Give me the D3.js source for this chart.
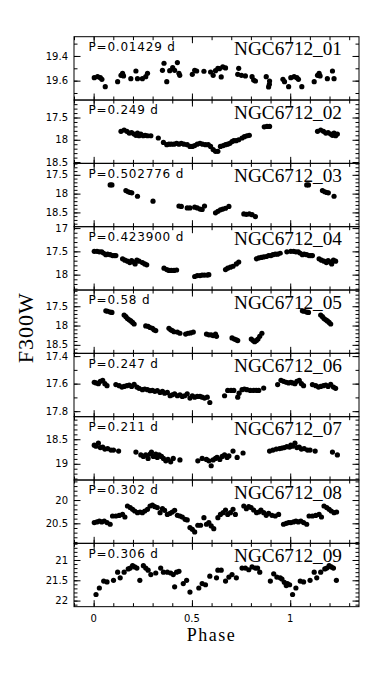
<!DOCTYPE html>
<html><head><meta charset="utf-8">
<script src="https://cdn.jsdelivr.net/npm/d3@7"></script>
<style>body{margin:0;background:#fff}</style></head>
<body>
<script>
// ---------- DATA ----------
const starNames = ["NGC6712_01","NGC6712_02","NGC6712_03","NGC6712_04","NGC6712_05","NGC6712_06","NGC6712_07","NGC6712_08","NGC6712_09"];
const periodLabels = ["P=0.01429 d","P=0.249 d","P=0.502776 d","P=0.423900 d","P=0.58 d","P=0.247 d","P=0.211 d","P=0.302 d","P=0.306 d"];
const xTickLabels = [0, 0.5, 1];
const yLabelTicks = [[19.4,19.6],[17.5,18,18.5],[17.5,18,18.5],[17,17.5,18],[17.5,18,18.5],[17.4,17.6,17.8],[18.5,19],[20,20.5],[21,21.5,22]];
const yDomains = [[19.244,19.757],[17.107,18.53],[17.195,18.88],[16.97,18.33],[17.08,18.72],[17.38,17.84],[18.04,19.33],[19.57,20.93],[20.59,22.15]];

const lc01 = [[0.003,19.576],[0.020,19.568],[0.034,19.576],[0.042,19.589],[0.059,19.649],[0.122,19.608],[0.139,19.557],[0.147,19.541],[0.152,19.562],[0.189,19.584],[0.215,19.522],[0.223,19.584],[0.248,19.584],[0.265,19.568],[0.274,19.541],[0.350,19.516],[0.358,19.459],[0.372,19.608],[0.387,19.519],[0.402,19.495],[0.412,19.516],[0.426,19.454],[0.434,19.541],[0.438,19.557],[0.502,19.549],[0.514,19.516],[0.524,19.522],[0.561,19.524],[0.595,19.530],[0.608,19.557],[0.620,19.519],[0.632,19.500],[0.640,19.503],[0.649,19.570],[0.657,19.489],[0.671,19.497],[0.733,19.549],[0.738,19.500],[0.752,19.557],[0.772,19.562],[0.806,19.568],[0.814,19.595],[0.823,19.603],[0.878,19.568],[0.890,19.651],[0.894,19.630],[0.895,19.603],[0.963,19.589],[0.971,19.608],[0.992,19.649]];
const lc02 = [[0.139,17.81],[0.155,17.78],[0.169,17.81],[0.181,17.85],[0.193,17.84],[0.206,17.87],[0.215,17.90],[0.223,17.85],[0.231,17.91],[0.240,17.87],[0.252,17.91],[0.262,17.90],[0.274,17.91],[0.291,17.91],[0.329,17.96],[0.355,18.06],[0.372,18.11],[0.383,18.10],[0.395,18.10],[0.409,18.10],[0.422,18.08],[0.434,18.10],[0.446,18.08],[0.459,18.10],[0.476,18.11],[0.490,18.15],[0.502,18.15],[0.514,18.13],[0.527,18.10],[0.541,18.08],[0.554,18.10],[0.569,18.11],[0.583,18.11],[0.595,18.15],[0.608,18.22],[0.620,18.26],[0.632,18.26],[0.645,18.15],[0.659,18.13],[0.671,18.11],[0.682,18.10],[0.693,18.08],[0.704,18.04],[0.713,18.02],[0.725,18.02],[0.738,18.00],[0.755,17.96],[0.767,17.93],[0.780,17.91],[0.792,17.90],[0.868,17.71],[0.882,17.70],[0.895,17.70]];
const lc03 = [[0.084,17.77],[0.093,17.77],[0.164,17.92],[0.176,17.95],[0.186,17.97],[0.194,17.98],[0.223,18.07],[0.302,18.20],[0.434,18.33],[0.446,18.34],[0.476,18.38],[0.490,18.38],[0.514,18.36],[0.527,18.38],[0.541,18.41],[0.552,18.42],[0.564,18.33],[0.620,18.51],[0.632,18.47],[0.645,18.43],[0.657,18.41],[0.671,18.39],[0.688,18.34],[0.764,18.54],[0.777,18.55],[0.792,18.54],[0.806,18.56],[0.823,18.61]];
const lc04 = [[0.003,17.50],[0.017,17.50],[0.029,17.51],[0.041,17.51],[0.051,17.54],[0.062,17.57],[0.071,17.56],[0.084,17.57],[0.096,17.59],[0.105,17.59],[0.113,17.59],[0.147,17.66],[0.159,17.69],[0.172,17.71],[0.184,17.74],[0.193,17.70],[0.203,17.73],[0.211,17.77],[0.220,17.69],[0.231,17.71],[0.248,17.74],[0.260,17.77],[0.270,17.79],[0.358,17.86],[0.372,17.89],[0.383,17.91],[0.395,17.91],[0.409,17.91],[0.422,17.90],[0.514,18.04],[0.527,18.02],[0.541,18.02],[0.552,18.01],[0.564,18.01],[0.578,18.01],[0.586,18.00],[0.671,17.89],[0.682,17.86],[0.696,17.84],[0.709,17.82],[0.726,17.77],[0.738,17.73],[0.828,17.66],[0.840,17.64],[0.853,17.63],[0.865,17.62],[0.878,17.61],[0.890,17.59],[0.902,17.59],[0.912,17.57],[0.924,17.56],[0.936,17.56],[0.949,17.54],[0.983,17.51]];
const lc05 = [[0.062,17.62],[0.071,17.63],[0.084,17.65],[0.093,17.66],[0.155,17.73],[0.164,17.77],[0.172,17.82],[0.181,17.85],[0.189,17.88],[0.198,17.92],[0.206,17.96],[0.265,18.01],[0.277,18.02],[0.287,18.05],[0.299,18.07],[0.307,18.11],[0.316,18.13],[0.383,18.07],[0.392,18.11],[0.400,18.13],[0.409,18.16],[0.426,18.17],[0.439,18.20],[0.468,18.22],[0.480,18.20],[0.493,18.19],[0.507,18.17],[0.574,18.22],[0.586,18.24],[0.598,18.24],[0.608,18.26],[0.620,18.22],[0.625,18.28],[0.704,18.32],[0.716,18.35],[0.726,18.37],[0.733,18.39],[0.802,18.35],[0.811,18.39],[0.819,18.42],[0.828,18.39],[0.836,18.35],[0.845,18.28],[0.856,18.20]];
const lc06 = [[0.003,17.590],[0.012,17.595],[0.024,17.600],[0.034,17.583],[0.046,17.576],[0.057,17.600],[0.068,17.615],[0.113,17.607],[0.130,17.615],[0.144,17.625],[0.155,17.620],[0.169,17.615],[0.181,17.610],[0.193,17.620],[0.206,17.605],[0.220,17.625],[0.231,17.634],[0.248,17.644],[0.260,17.639],[0.274,17.644],[0.287,17.651],[0.299,17.649],[0.311,17.656],[0.324,17.651],[0.338,17.664],[0.350,17.656],[0.361,17.669],[0.375,17.664],[0.389,17.688],[0.400,17.681],[0.412,17.674],[0.426,17.688],[0.439,17.681],[0.451,17.693],[0.463,17.688],[0.476,17.674],[0.490,17.705],[0.502,17.688],[0.514,17.698],[0.527,17.693],[0.541,17.693],[0.552,17.698],[0.564,17.705],[0.578,17.698],[0.591,17.737],[0.666,17.688],[0.682,17.649],[0.699,17.649],[0.713,17.649],[0.733,17.698],[0.740,17.669],[0.755,17.644],[0.767,17.639],[0.780,17.644],[0.797,17.649],[0.814,17.649],[0.828,17.649],[0.840,17.649],[0.865,17.632],[0.936,17.607],[0.953,17.576],[0.966,17.583],[0.980,17.590],[0.992,17.595]];
const lc07 = [[0.003,18.62],[0.012,18.64],[0.024,18.58],[0.034,18.67],[0.046,18.66],[0.057,18.70],[0.071,18.69],[0.088,18.72],[0.101,18.72],[0.127,18.74],[0.215,18.76],[0.240,18.82],[0.253,18.85],[0.265,18.82],[0.277,18.89],[0.287,18.80],[0.294,18.76],[0.304,18.85],[0.316,18.80],[0.324,18.87],[0.333,18.82],[0.345,18.85],[0.355,18.89],[0.367,18.94],[0.378,18.91],[0.392,18.96],[0.405,18.89],[0.439,18.92],[0.530,18.94],[0.552,18.89],[0.574,18.91],[0.586,18.94],[0.598,19.04],[0.608,18.92],[0.620,18.89],[0.628,18.87],[0.642,18.91],[0.654,18.85],[0.666,18.82],[0.679,18.87],[0.688,18.84],[0.709,18.74],[0.730,18.87],[0.760,18.78],[0.895,18.74],[0.912,18.72],[0.929,18.70],[0.946,18.69],[0.958,18.68],[0.970,18.67],[0.983,18.65],[0.997,18.66]];
const lc08 = [[0.003,20.485],[0.017,20.471],[0.029,20.45],[0.041,20.471],[0.054,20.45],[0.068,20.485],[0.084,20.52],[0.096,20.343],[0.113,20.343],[0.130,20.33],[0.147,20.31],[0.159,20.364],[0.172,20.128],[0.186,20.164],[0.198,20.2],[0.209,20.236],[0.223,20.271],[0.236,20.257],[0.248,20.271],[0.260,20.236],[0.274,20.2],[0.287,20.128],[0.299,20.107],[0.311,20.143],[0.324,20.164],[0.338,20.271],[0.350,20.186],[0.361,20.221],[0.375,20.31],[0.389,20.285],[0.400,20.257],[0.412,20.221],[0.426,20.328],[0.439,20.343],[0.451,20.364],[0.465,20.414],[0.476,20.428],[0.490,20.592],[0.502,20.628],[0.514,20.685],[0.530,20.542],[0.544,20.542],[0.561,20.378],[0.574,20.52],[0.586,20.485],[0.598,20.557],[0.611,20.614],[0.632,20.378],[0.645,20.31],[0.659,20.271],[0.671,20.214],[0.682,20.31],[0.696,20.271],[0.709,20.2],[0.721,20.31],[0.764,20.128],[0.777,20.186],[0.789,20.143],[0.801,20.164],[0.814,20.214],[0.828,20.271],[0.840,20.257],[0.851,20.214],[0.865,20.271],[0.878,20.328],[0.890,20.285],[0.907,20.328],[0.924,20.343],[0.941,20.31],[0.966,20.52],[0.980,20.50],[0.992,20.485]];
const lc09 = [[0.012,21.85],[0.029,21.69],[0.051,21.52],[0.068,21.54],[0.101,21.50],[0.122,21.30],[0.135,21.44],[0.155,21.30],[0.176,21.22],[0.186,21.20],[0.198,21.14],[0.209,21.17],[0.220,21.20],[0.235,21.50],[0.253,21.14],[0.265,21.20],[0.277,21.25],[0.291,21.36],[0.316,21.32],[0.341,21.20],[0.355,21.30],[0.375,21.30],[0.392,21.32],[0.405,21.36],[0.412,21.66],[0.422,21.30],[0.434,21.28],[0.456,21.58],[0.473,21.50],[0.490,21.79],[0.535,21.69],[0.552,21.58],[0.569,21.61],[0.591,21.40],[0.625,21.44],[0.632,21.25],[0.649,21.25],[0.671,21.52],[0.688,21.42],[0.704,21.36],[0.726,21.44],[0.755,21.20],[0.772,21.20],[0.789,21.24],[0.806,21.17],[0.823,21.20],[0.834,21.20],[0.845,21.30],[0.899,21.52],[0.916,21.34],[0.932,21.42],[0.949,21.44],[0.958,21.47],[0.970,21.55],[0.980,21.63],[0.986,21.58],[0.997,21.61]];
const lightCurves = [lc01,lc02,lc03,lc04,lc05,lc06,lc07,lc08,lc09];

// ---------- LAYOUT ----------
const W = 382, H = 680;
const L = 74, R = 359, T = 36.7, PH = 63.33;
const svg = d3.select("body").append("svg").attr("width", W).attr("height", H);
const x = d3.scaleLinear().domain([-0.1, 1.35]).range([L, R]);
const xMinor = d3.range(-1, 14).map(i => +(i / 10).toFixed(2));
const xMajor = [0, 0.5, 1];
const sans = "'DejaVu Sans', sans-serif";
const serif = "'Liberation Serif', 'DejaVu Serif', serif";

function styleAxis(g) {
  g.select(".domain").remove();
  g.selectAll(".tick line").attr("stroke", "#000").attr("stroke-width", 1);
  g.selectAll(".tick text").remove();
}

lightCurves.forEach((lc, i) => {
  const top = T + i * PH, bot = top + PH;
  const y = d3.scaleLinear().domain(yDomains[i]).range([top, bot]);
  const g = svg.append("g");
  // repeat the beginning of the cycle after phase 1
  const pts = lc.concat(lc.filter(d => d[0] < 0.245).map(d => [d[0] + 1, d[1]]));
  g.selectAll("circle").data(pts).join("circle")
    .attr("cx", d => x(d[0])).attr("cy", d => y(d[1])).attr("r", 2.6).attr("fill", "#000");

  // x ticks top and bottom
  [[xMinor, 3.5], [xMajor, 6.5]].forEach(([vals, len]) => {
    g.append("g").attr("transform", `translate(0,${bot})`)
      .call(d3.axisBottom(x).tickValues(vals).tickSize(-len)).call(styleAxis);
    g.append("g").attr("transform", `translate(0,${top})`)
      .call(d3.axisTop(x).tickValues(vals).tickSize(-len)).call(styleAxis);
  });
  // y ticks left and right
  const [d0, d1] = yDomains[i];
  const minorY = d3.range(Math.ceil(d0 * 10 - 1e-6), Math.floor(d1 * 10 + 1e-6) + 1).map(v => v / 10);
  [[minorY, 3.5], [yLabelTicks[i], 6.5]].forEach(([vals, len]) => {
    g.append("g").attr("transform", `translate(${L},0)`)
      .call(d3.axisLeft(y).tickValues(vals).tickSize(-len)).call(styleAxis);
    g.append("g").attr("transform", `translate(${R},0)`)
      .call(d3.axisRight(y).tickValues(vals).tickSize(-len)).call(styleAxis);
  });
  // y tick labels
  g.selectAll("text.yl").data(yLabelTicks[i]).join("text")
    .attr("x", 68).attr("y", d => y(d)).attr("dy", "0.36em")
    .attr("text-anchor", "end").attr("font-family", sans).attr("font-size", 10)
    .text(d => String(d));
  // frame
  g.append("rect").attr("x", L).attr("y", top).attr("width", R - L).attr("height", PH)
    .attr("fill", "none").attr("stroke", "#000").attr("stroke-width", 1);
  // labels
  g.append("text").attr("x", 88.5).attr("y", top + 14.3)
    .attr("font-family", sans).attr("font-size", 12).attr("letter-spacing", 0.8)
    .text(periodLabels[i]);
  g.append("text").attr("x", 234).attr("y", top + 18.5)
    .attr("font-family", serif).attr("font-size", 18)
    .attr("textLength", 108).attr("lengthAdjust", "spacingAndGlyphs")
    .text(starNames[i]);
});

// x tick labels on bottom panel
const bottom = T + 9 * PH;
svg.selectAll("text.xl").data(xTickLabels).join("text")
  .attr("x", d => x(d)).attr("y", bottom + 15)
  .attr("text-anchor", "middle").attr("font-family", sans).attr("font-size", 10)
  .text(d => String(d));

svg.append("text").attr("x", x(0.6)).attr("y", bottom + 34.5)
  .attr("text-anchor", "middle").attr("font-family", serif).attr("font-size", 18)
  .attr("letter-spacing", 1.5)
  .text("Phase");

svg.append("text").attr("transform", `translate(33,${T + 4.5 * PH + 6}) rotate(-90)`)
  .attr("text-anchor", "middle").attr("font-family", serif).attr("font-size", 22)
  .attr("letter-spacing", 1)
  .text("F300W");
</script>
</body></html>
